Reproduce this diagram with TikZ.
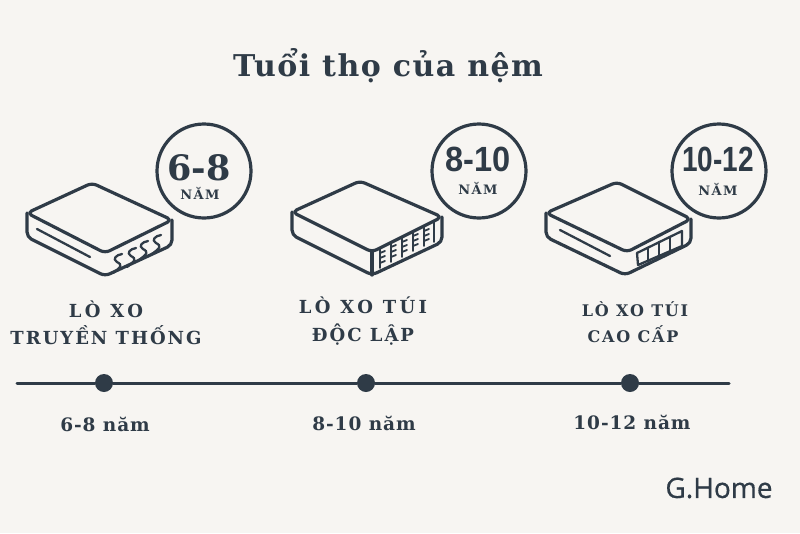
\documentclass[tikz,border=0pt]{standalone}
\usepackage{fontspec}
\setmainfont{DejaVu Serif}
\newfontfamily\logofont{Open Sans}[FakeBold=0.6]
\newfontfamily\numfont{Liberation Sans}
\newfontfamily\wideA{DejaVu Serif}[LetterSpace=5]
\newfontfamily\wideB{DejaVu Serif}[LetterSpace=5]
\newfontfamily\wideC{DejaVu Serif}[LetterSpace=11]
\newfontfamily\wideD{DejaVu Serif}[LetterSpace=19]
\usetikzlibrary{calc}
\definecolor{ink}{HTML}{2F3B47}
\definecolor{paper}{HTML}{F7F5F2}
\tikzset{
  base/.style={draw=ink, line width=3.2pt, line cap=round, line join=round},
  rail/.style={draw=ink, line width=3pt, line cap=round},
  thin/.style={draw=ink, line width=2.3pt, line cap=round, line join=round},
  fine/.style={draw=ink, line width=1.8pt, line cap=round, line join=round},
  badge/.style={circle, draw=ink, line width=3.2pt, minimum size=94pt, inner sep=0pt},
  dot/.style={circle, fill=ink, inner sep=0pt, minimum width=16pt, minimum height=18pt},
  lab/.style={text=ink, font=\wideC\bfseries\fontsize{18}{20}\selectfont, inner sep=0pt},
  labw/.style={text=ink, font=\wideD\bfseries\fontsize{18}{20}\selectfont, inner sep=0pt},
  labs/.style={text=ink, font=\wideC\bfseries\fontsize{16}{18}\selectfont, inner sep=0pt},
  yr/.style={text=ink, font=\wideA\bfseries\fontsize{18.5}{20}\selectfont, inner sep=0pt},
  unit/.style={text=ink, font=\wideC\bfseries\fontsize{13}{15}\selectfont, inner sep=0pt},
  big/.style={text=ink, font=\numfont\bfseries\fontsize{35}{38}\selectfont, inner sep=0pt},
}
\begin{document}
\begin{tikzpicture}[x=1pt,y=-1pt]
  \fill[paper] (0,0) rectangle (800,533);
  \useasboundingbox (0,0) rectangle (800,533);

  \node[text=ink,inner sep=0pt,font=\wideB\bfseries\fontsize{30}{32}\selectfont] (title) at (388,66) {Tuổi thọ của nệm};

  % mattress 1
  \draw[base,rounded corners=5pt] (27,213)--(92,183)--(172,220)--(105,253)--cycle;
  \draw[base,rounded corners=5pt] (27,213)--(27,237)--(105,276)--(172,245)--(172,220);
  \draw[thin] (37,229)--(90,257);
  \foreach \x/\y in {118/264,132/258,144/251,157/245}{
    \draw[thin] (\x+4,\y-10) .. controls (\x-2,\y-9) and (\x-6,\y-5) .. (\x-1,\y-2)
      .. controls (\x+5,\y+1) and (\x+3,\y+3) .. (\x-5,\y+9);
  }

  % mattress 2
  \draw[base,rounded corners=5pt] (292,212)--(360,181)--(442,217)--(372,252)--cycle;
  \draw[base,rounded corners=5pt] (292,212)--(292,235)--(372,275)--(442,242)--(442,217);
  \draw[base] (372,252)--(372,275);
  \foreach \x/\t in {380/248,391/242,402/237,413/231,424/226}{
    \draw[fine] (\x,\t)--(\x,\t+20);
    \foreach \d in {5,10,15}{
      \draw[fine] (\x,\t+\d)--(\x+5,\t+\d-2);
    }
  }
  \draw[fine] (434,222)--(434,242);

  % mattress 3
  \draw[base,rounded corners=5pt] (546,213)--(617,182)--(691,219)--(627,252)--cycle;
  \draw[base,rounded corners=5pt] (546,213)--(546,237)--(625,275)--(691,243)--(691,219);
  \draw[thin] (560,230)--(610,256);
  \draw[thin] (637,253)--(682,231)--(682,246)--(638,265)--cycle;
  \foreach \x/\t/\b in {648/248/261,659/242/256,670/237/252}{
    \draw[thin] (\x,\t)--(\x,\b);
  }

  % badges
  \node[badge] (b1) at (204,171) {};
  \node[badge] (b2) at (479,171) {};
  \node[badge] (b3) at (719,171) {};
  \node[text=ink,inner sep=0pt,font=\bfseries\fontsize{35}{38}\selectfont] (n1) at (199,168) {6-8};
  \node[big,xscale=.93] (n2) at (478,159) {8-10};
  \node[big,xscale=.8] (n3) at (718,159) {10-12};
  \node[unit] (u1) at (200,193) {NĂM};
  \node[unit] (u2) at (478,188) {NĂM};
  \node[unit] (u3) at (718,189) {NĂM};

  % labels
  \node[labw] (a1) at (106,309) {LÒ XO};
  \node[lab] (a2) at (106,335) {TRUYỀN THỐNG};
  \node[labw] (c1) at (363,305) {LÒ XO TÚI};
  \node[lab] (c2) at (363,335) {ĐỘC LẬP};
  \node[labs] (d1) at (635,309) {LÒ XO TÚI};
  \node[labs] (d2) at (633,334) {CAO CẤP};

  % timeline
  \coordinate (s) at (17,383);
  \coordinate (e) at (729,383);
  \node[dot] (t1) at (104,383) {};
  \node[dot] (t2) at (366,383) {};
  \node[dot] (t3) at (630,383) {};
  \draw[rail] (s)--(t1) (t1)--(t2) (t2)--(t3) (t3)--(e);
  \node[yr] (y1) at (105,424) {6-8 năm};
  \node[yr] (y2) at (364,423) {8-10 năm};
  \node[yr] (y3) at (632,422) {10-12 năm};

  \node[text=ink,inner sep=0pt,font=\logofont\fontsize{28}{30}\selectfont] (logo) at (719,488) {G.Home};
\end{tikzpicture}
\end{document}
